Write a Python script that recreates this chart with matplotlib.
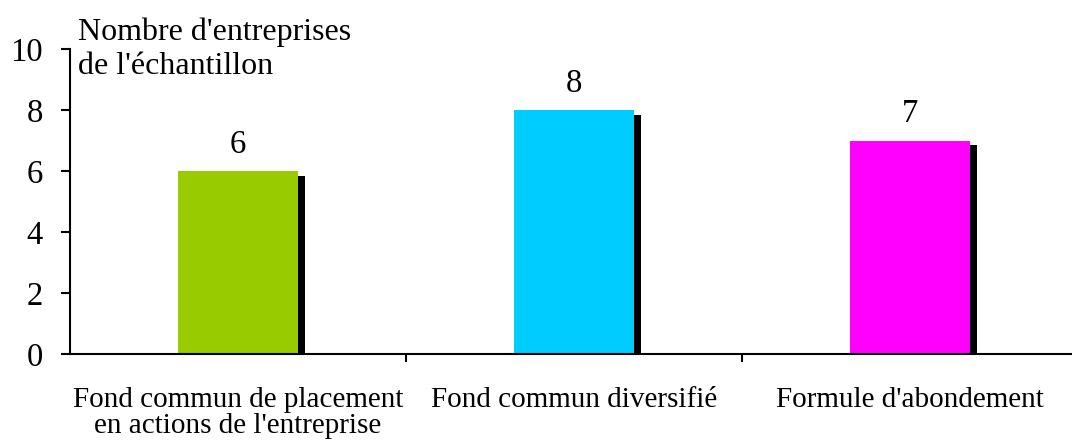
import matplotlib.pyplot as plt

categories = ["Fond commun de placement\nen actions de l'entreprise",
              "Fond commun diversifié",
              "Formule d'abondement"]
values = [6, 8, 7]
colors = ["#99CC00", "#00CCFF", "#FF00FF"]
yticks = [0, 2, 4, 6, 8, 10]

plt.rcParams['font.family'] = ['Liberation Serif', 'DejaVu Serif']

fig = plt.figure(figsize=(10.72, 4.45), dpi=100)
ax = fig.add_axes([70 / 1072, 1 - 354 / 445, 1008 / 1072, 305 / 445])

x = list(range(len(categories)))
width = 0.36

# drop shadow behind each bar
ax.bar([i + 0.018 for i in x], [v - 0.16 for v in values], width=width,
       color="black", zorder=1)
ax.bar(x, values, width=width, color=colors, zorder=2)

for i, v in zip(x, values):
    ax.annotate(str(v), (i, v), xytext=(0, 8), textcoords="offset points",
                ha="center", va="bottom", fontsize=23.5)

ax.set_xlim(-0.5, 2.5)
ax.set_ylim(0, 10)
ax.set_yticks(yticks)
ax.tick_params(axis="y", direction="out", length=6.5, width=1.5, labelsize=23.5, pad=13)

ax.set_xticks(x)
ax.set_xticklabels(categories, fontsize=21, linespacing=1.0)
ax.tick_params(axis="x", which="major", length=0, pad=24)
ax.set_xticks([0.5, 1.5], minor=True)
ax.tick_params(axis="x", which="minor", direction="out", length=6, width=1.5)

for s in ["top", "right"]:
    ax.spines[s].set_visible(False)
for s in ["left", "bottom"]:
    ax.spines[s].set_linewidth(1.5)
ax.spines["bottom"].set_zorder(3)

fig.text(78 / 1072, 1 - 32 / 445, "Nombre d'entreprises", fontsize=23, va="center")
fig.text(78 / 1072, 1 - 67 / 445, "de l'échantillon", fontsize=23, va="center")

fig.savefig("out.png", dpi=100)
